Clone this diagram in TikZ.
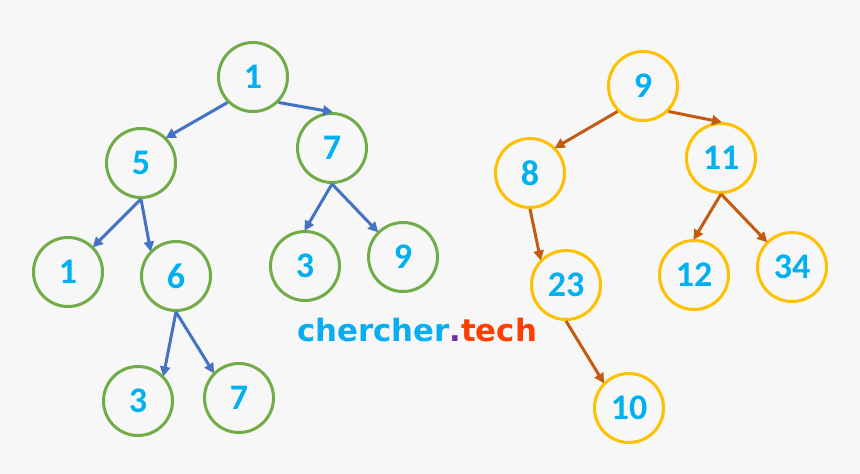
\documentclass[tikz,border=0pt]{standalone}
\usepackage{fontspec}
\setmainfont{Carlito}
\newfontfamily\logofont{DejaVu Sans}
\usetikzlibrary{arrows.meta}
\definecolor{bg}{HTML}{F7F7F7}
\definecolor{gr}{HTML}{70AD47}
\definecolor{yl}{HTML}{FFC000}
\definecolor{bl}{HTML}{4472C4}
\definecolor{br}{HTML}{C55A11}
\definecolor{cy}{HTML}{00B0F0}
\definecolor{lcy}{HTML}{0AADEF}
\definecolor{lpu}{HTML}{7030A0}
\definecolor{lrd}{HTML}{FF3D00}
\tikzset{
  gnode/.style={circle,draw=gr,line width=3pt,minimum size=69pt,inner sep=0pt,text=cy,font=\fontsize{36}{36}\selectfont\bfseries},
  ynode/.style={gnode,draw=yl},
  garr/.style={draw=bl,line width=3pt,-{Triangle[length=10pt,width=10pt]},shorten >=-1pt},
  yarr/.style={garr,draw=br}
}
\begin{document}
\begin{tikzpicture}[x=1pt,y=-1pt]
\fill[bg] (0,0) rectangle (860,474);
\useasboundingbox (0,0) rectangle (860,474);
% left tree
\node[gnode] (a1) at (253,77) {1};
\node[gnode] (a5) at (141,163) {5};
\node[gnode] (a7) at (332,148) {7};
\node[gnode] (b1) at (68,272) {1};
\node[gnode] (b6) at (176,276) {6};
\node[gnode] (b3) at (305,266) {3};
\node[gnode] (b9) at (403,257) {9};
\node[gnode] (c3) at (138,401) {3};
\node[gnode] (c7) at (239,398) {7};
\draw[garr] (a1.south west) -- (a5.north east);
\draw[garr] (a1.south east) -- (a7.north);
\draw[garr] (a5.south) -- (b1.north east);
\draw[garr] (a5.south) -- (b6.north west);
\draw[garr] (a7.south) -- (b3.north);
\draw[garr] (a7.south) -- (b9.north west);
\draw[garr] (b6.south) -- (c3.north east);
\draw[garr] (b6.south) -- (c7.north west);
% right tree
\node[ynode] (r9) at (643,86) {9};
\node[ynode] (r8) at (530,173) {8};
\node[ynode] (r11) at (721,158) {11};
\node[ynode] (r23) at (566,285) {23};
\node[ynode] (r12) at (694,275) {12};
\node[ynode] (r34) at (792,267) {34};
\node[ynode] (r10) at (629,408) {10};
\draw[yarr] (r9.south west) -- (r8.north east);
\draw[yarr] (r9.south east) -- (r11.north);
\draw[yarr] (r8.south) -- (r23.north west);
\draw[yarr] (r11.south) -- (r12.north);
\draw[yarr] (r11.south) -- (r34.north west);
\draw[yarr] (r23.south) -- (r10.north west);
% logo
\node[inner sep=0pt,anchor=center] (logo) at (417,330)
  {\resizebox{240pt}{!}{\logofont\bfseries\fontsize{27}{27}\selectfont\textcolor{lcy}{chercher}\textcolor{lpu}{.}\textcolor{lrd}{tech}}};
\end{tikzpicture}
\end{document}
